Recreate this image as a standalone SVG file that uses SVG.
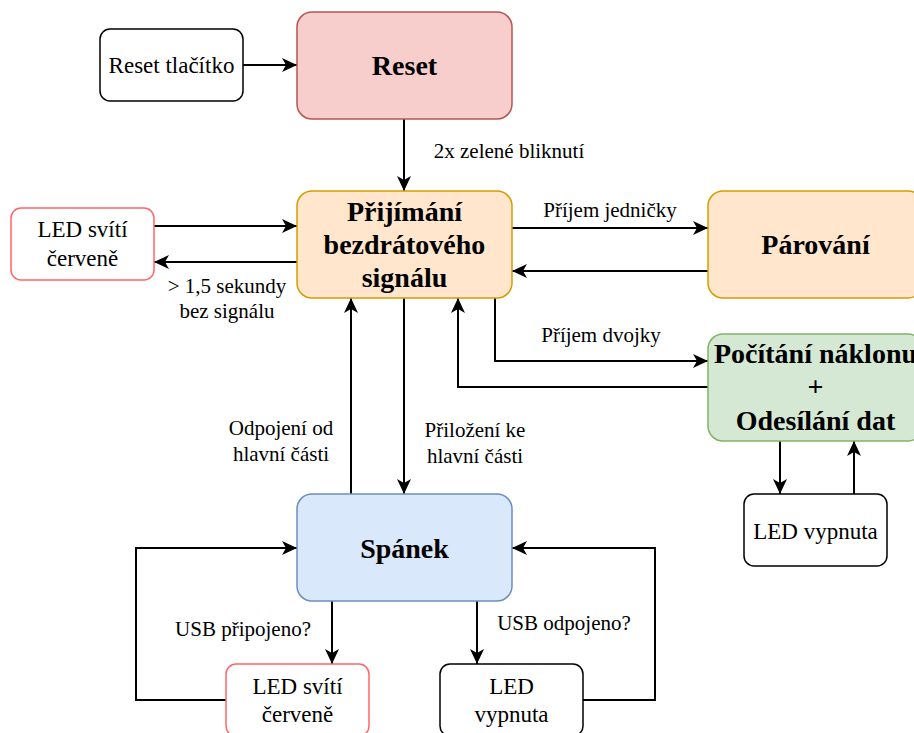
<svg xmlns="http://www.w3.org/2000/svg" width="914" height="733" viewBox="0 0 914 733">
<style>
text{font-family:'Liberation Serif',serif;fill:#000;text-anchor:middle}
.t{font-size:23px}
.b{font-size:28px;font-weight:bold}
.l{font-size:21px}
.plain{fill:#fff;stroke:#000;stroke-width:1.5}
.red{fill:#fff;stroke:#ff6666;stroke-width:1.5}
.e{fill:none;stroke:#000;stroke-width:2}
</style>
<defs>
<marker id="ar" markerUnits="userSpaceOnUse" markerWidth="16" markerHeight="16" refX="15" refY="7" orient="auto" viewBox="0 0 16 14">
<path d="M0,0 L15,7 L0,14 L4,7 Z" fill="#000"/>
</marker>
</defs>
<g id="connectors">
<path class="e" marker-end="url(#ar)" d="M243,65 L297,65"/>
<path class="e" marker-end="url(#ar)" d="M404,119 L404,191"/>
<path class="e" marker-end="url(#ar)" d="M154,226 L297,226"/>
<path class="e" marker-end="url(#ar)" d="M297,262 L154,262"/>
<path class="e" marker-end="url(#ar)" d="M512,228 L708,228"/>
<path class="e" marker-end="url(#ar)" d="M708,271 L512,271"/>
<path class="e" marker-end="url(#ar)" d="M495,298 L495,361 L708,361"/>
<path class="e" marker-end="url(#ar)" d="M708,387 L458,387 L458,298"/>
<path class="e" marker-end="url(#ar)" d="M404,298 L404,494"/>
<path class="e" marker-end="url(#ar)" d="M351,494 L351,298"/>
<path class="e" marker-end="url(#ar)" d="M780,441 L780,494"/>
<path class="e" marker-end="url(#ar)" d="M854,494 L854,441"/>
<path class="e" marker-end="url(#ar)" d="M332,601 L332,664"/>
<path class="e" marker-end="url(#ar)" d="M477,601 L477,664"/>
<path class="e" marker-end="url(#ar)" d="M226,700 L136,700 L136,548 L297,548"/>
<path class="e" marker-end="url(#ar)" d="M583,700 L655,700 L655,548 L512,548"/>
<text class="l" x="509" y="158">2x zelené bliknutí</text>
<text class="l" x="227" y="293">&gt; 1,5 sekundy</text>
<text class="l" x="227" y="318">bez signálu</text>
<text class="l" x="610" y="217">Příjem jedničky</text>
<text class="l" x="601" y="342">Příjem dvojky</text>
<text class="l" x="281" y="435">Odpojení od</text>
<text class="l" x="281" y="461">hlavní části</text>
<text class="l" x="475" y="437">Přiložení ke</text>
<text class="l" x="475" y="463">hlavní části</text>
<text class="l" x="243" y="636">USB připojeno?</text>
<text class="l" x="564" y="630">USB odpojeno?</text>
</g>
<g id="reset-tlacitko">
<rect class="plain" x="100" y="29" width="143" height="72" rx="10"/>
<text class="t" x="171.5" y="73">Reset tlačítko</text>
</g>
<g id="reset">
<rect x="297" y="12" width="215" height="107" rx="15" fill="#f8cecc" stroke="#b85450" stroke-width="1.5"/>
<text class="b" x="404.5" y="75">Reset</text>
</g>
<g id="prijimani">
<rect x="297" y="191" width="215" height="107" rx="15" fill="#ffe6cc" stroke="#d79b00" stroke-width="1.5"/>
<text class="b" x="404.5" y="221">Přijímání</text>
<text class="b" x="404.5" y="254">bezdrátového</text>
<text class="b" x="404.5" y="287">signálu</text>
</g>
<g id="led-cervene-1">
<rect class="red" x="11" y="208" width="143" height="72" rx="10"/>
<text class="t" x="82.5" y="237">LED svítí</text>
<text class="t" x="82.5" y="266">červeně</text>
</g>
<g id="parovani">
<rect x="708" y="191" width="215" height="107" rx="15" fill="#ffe6cc" stroke="#d79b00" stroke-width="1.5"/>
<text class="b" x="815.5" y="254">Párování</text>
</g>
<g id="pocitani">
<rect x="708" y="334" width="215" height="107" rx="15" fill="#d5e8d4" stroke="#82b366" stroke-width="1.5"/>
<text class="b" x="815.5" y="363">Počítání náklonu</text>
<text class="b" x="815.5" y="396">+</text>
<text class="b" x="815.5" y="430">Odesílání dat</text>
</g>
<g id="led-vypnuta-1">
<rect class="plain" x="744" y="494" width="143" height="72" rx="10"/>
<text class="t" x="815.5" y="539">LED vypnuta</text>
</g>
<g id="spanek">
<rect x="297" y="494" width="215" height="107" rx="15" fill="#dae8fc" stroke="#6c8ebf" stroke-width="1.5"/>
<text class="b" x="404.5" y="558">Spánek</text>
</g>
<g id="led-cervene-2">
<rect class="red" x="226" y="664" width="143" height="72" rx="10"/>
<text class="t" x="297.5" y="694">LED svítí</text>
<text class="t" x="297.5" y="722">červeně</text>
</g>
<g id="led-vypnuta-2">
<rect class="plain" x="440" y="664" width="143" height="72" rx="10"/>
<text class="t" x="511.5" y="694">LED</text>
<text class="t" x="511.5" y="722">vypnuta</text>
</g>
</svg>
